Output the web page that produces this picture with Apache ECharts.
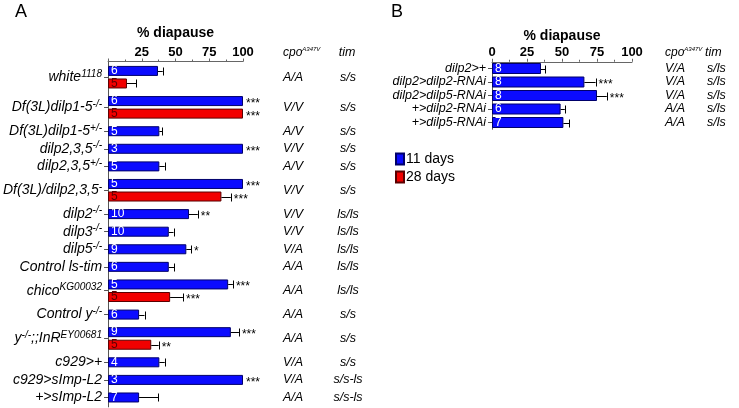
<!DOCTYPE html>
<html><head><meta charset="utf-8">
<script src="https://cdn.jsdelivr.net/npm/echarts@6/dist/echarts.min.js"></script>
<style>html,body{margin:0;padding:0;background:#fff}#c{width:739px;height:408px}</style>
</head><body><div id="c"></div>
<script>
// ---------- data ----------
const xTicks = [0, 25, 50, 75, 100];
const labelsA = ['white^{1118}', 'Df(3L)dilp1-5^{-/-}', 'Df(3L)dilp1-5^{+/-}', 'dilp2,3,5^{-/-}', 'dilp2,3,5^{+/-}',
  'Df(3L)/dilp2,3,5^{-}', 'dilp2^{-/-}', 'dilp3^{-/-}', 'dilp5^{-/-}', 'Control ls-tim', 'chico^{KG00032}',
  'Control y^{-/-}', 'y^{-/-};;InR^{EY00681}', 'c929>+', 'c929>sImp-L2', '+>sImp-L2'];
const d11A = [37, 100, 38, 100, 38, 100, 60, 45, 58, 45, 89, 23, 91, 38, 100, 23];
const e11A = [3.5, 0, 2, 0, 4, 0, 6.5, 3.5, 3.5, 4, 3.5, 4, 6, 4, 0, 14];
const n11A = [6, 6, 5, 3, 5, 5, 10, 10, 9, 6, 5, 6, 9, 4, 3, 7];
const s11A = ['', '***', '', '***', '', '***', '**', '', '*', '', '***', '', '***', '', '***', ''];
const d28A = [14, 100, null, null, null, 84, null, null, null, null, 46, null, 32, null, null, null];
const e28A = [7, 0, null, null, null, 7, null, null, null, null, 9.5, null, 5.5, null, null, null];
const n28A = [5, 5, null, null, null, 5, null, null, null, null, 5, null, 5, null, null, null];
const s28A = ['', '***', '', '', '', '***', '', '', '', '', '***', '', '**', '', '', ''];
const cpoA = ['A/A', 'V/V', 'A/V', 'V/V', 'A/V', 'V/V', 'V/V', 'V/V', 'V/A', 'A/A', 'A/A', 'A/A', 'A/A', 'V/A', 'V/A', 'A/A'];
const timA = ['s/s', 's/s', 's/s', 's/s', 's/s', 's/s', 'ls/ls', 'ls/ls', 'ls/ls', 'ls/ls', 'ls/ls', 's/s', 's/s', 's/s', 's/s-ls', 's/s-ls'];

const labelsB = ['dilp2>+', 'dilp2>dilp2-RNAi', 'dilp2>dilp5-RNAi', '+>dilp2-RNAi', '+>dilp5-RNAi'];
const d11B = [35, 66, 75, 49, 51];
const e11B = [3, 8, 7, 3, 4];
const n11B = [8, 8, 8, 6, 7];
const s11B = ['', '***', '***', '', ''];
const cpoB = ['V/A', 'V/A', 'V/A', 'A/A', 'A/A'];
const timB = ['s/ls', 's/ls', 's/ls', 's/ls', 's/ls'];

// ---------- layout (panel A slot grid) ----------
const PAD_TOP = 7, PAIR = 10, GAP = 14, PAD_BOTTOM = 7, UNIT = 1.256;
const slotA = [];
let pos = PAD_TOP;
labelsA.forEach((l, i) => {
  if (i > 0) pos += GAP;
  const s = { blue: pos, red: null, label: pos };
  if (d28A[i] != null) { s.red = pos + PAIR; s.label = pos + PAIR / 2; pos += PAIR; }
  slotA.push(s);
});
const NA = pos + 1 + PAD_BOTTOM;
const catsA = Array.from({ length: NA }, (_, k) => 'k' + k);
const labelAt = {};
slotA.forEach((s, i) => { labelAt[s.label] = i; });
const blueA = new Array(NA).fill('-'), redA = new Array(NA).fill('-');
const nBlueAt = {}, nRedAt = {};
const errA = [], starsA = [];
slotA.forEach((s, i) => {
  blueA[s.blue] = d11A[i]; nBlueAt[s.blue] = n11A[i];
  errA.push([d11A[i], s.blue, e11A[i]]); starsA.push(s11A[i]);
  if (s.red != null) {
    redA[s.red] = d28A[i]; nRedAt[s.red] = n28A[i];
    errA.push([d28A[i], s.red, e28A[i]]); starsA.push(s28A[i]);
  }
});
const errB = d11B.map((v, i) => [v, i, e11B[i]]);

// ---------- helpers ----------
const FF = 'Liberation Sans, Arial, sans-serif';
function richText(str) {
  return str.split(/(\^\{[^}]*\})/).filter(Boolean)
    .map(p => p.startsWith('^{') ? '{s|' + p.slice(2, -1) + '}' : '{n|' + p + '}').join('');
}
const isLabelA = (idx) => labelAt[idx] !== undefined;
const BLUE = '#0b0bff', BLUE_B = '#00006a', RED = '#f20000', RED_B = '#5a0000';

function errRender(stars) {
  return function (params, api) {
    const v = api.value(0), idx = api.value(1), err = api.value(2);
    const p0 = api.coord([v, idx]), p1 = api.coord([v + err, idx]);
    const y = Math.round(p0[1]) + 0.5;
    const ch = [];
    if (err > 0) {
      ch.push({ type: 'line', shape: { x1: p0[0], y1: y, x2: p1[0], y2: y }, style: { stroke: '#000', lineWidth: 1 } });
      ch.push({ type: 'line', shape: { x1: Math.round(p1[0]) + 0.5, y1: y - 4, x2: Math.round(p1[0]) + 0.5, y2: y + 4 }, style: { stroke: '#000', lineWidth: 1 } });
    }
    const st = stars[params.dataIndex];
    if (st) ch.push({ type: 'text', x: p1[0] + 3, y: y + 2.5,
      style: { text: st, fill: '#000', font: '12px ' + FF, align: 'left', verticalAlign: 'middle' } });
    return { type: 'group', children: ch };
  };
}

const xAxisBase = (showZero) => ({
  type: 'value', position: 'top', min: xTicks[0], max: xTicks[xTicks.length - 1], interval: xTicks[1] - xTicks[0],
  name: '% diapause', nameLocation: 'middle', nameGap: 19,
  nameTextStyle: { fontWeight: 'bold', fontSize: 14, color: '#000', fontFamily: FF },
  axisLine: { show: true, lineStyle: { color: '#666', width: 1 } },
  axisTick: { show: true, length: 3, lineStyle: { color: '#666' } },
  minorTick: { show: true, splitNumber: 2, length: 2, lineStyle: { color: '#666' } },
  splitLine: { show: false },
  axisLabel: { margin: 3, fontWeight: 'bold', fontSize: 13, color: '#000', fontFamily: FF,
    formatter: v => (v === 0 && !showZero) ? '' : String(v) }
});

const richLeft = (fs) => ({
  n: { fontSize: fs, fontStyle: 'italic', color: '#000', fontFamily: FF, lineHeight: fs + 3 },
  s: { fontSize: fs * 0.72, fontStyle: 'italic', color: '#000', fontFamily: FF, lineHeight: fs * 0.7, verticalAlign: 'top' }
});
const headerRich = {
  n: { fontSize: 12, fontStyle: 'italic', fontFamily: FF, fill: '#000', lineHeight: 14 },
  s: { fontSize: 6, fontStyle: 'italic', fontFamily: FF, fill: '#000', lineHeight: 6, verticalAlign: 'top' }
};

const option = {
  animation: false,
  backgroundColor: '#fff',
  grid: [
    { left: 102, top: 61.5, width: 141, height: NA * UNIT },
    { left: 492, top: 61.75, width: 140, height: 67.5 }
  ],
  legend: {
    data: ['11 days', '28 days'], orient: 'vertical', left: 395, top: 152, padding: 0,
    itemWidth: 8, itemHeight: 11, itemGap: 4, icon: 'rect',
    textStyle: { fontSize: 14, color: '#000', fontFamily: FF, padding: [0, 0, 0, -3] }
  },
  xAxis: [
    Object.assign(xAxisBase(false), { gridIndex: 0 }),
    Object.assign(xAxisBase(true), { gridIndex: 1 })
  ],
  yAxis: [
    { type: 'category', gridIndex: 0, data: catsA, inverse: true,
      axisLine: { show: true, lineStyle: { color: '#555' } },
      axisTick: { show: true, length: 4, alignWithLabel: true, interval: isLabelA, lineStyle: { color: '#555' } },
      axisLabel: { interval: isLabelA, margin: 6, formatter: (v, idx) => isLabelA(idx) ? richText(labelsA[labelAt[idx]]) : '',
        rich: richLeft(14) } },
    { type: 'category', gridIndex: 0, data: catsA, inverse: true, position: 'right',
      axisLine: { show: false }, axisTick: { show: false },
      axisLabel: { interval: isLabelA, margin: 40,
        formatter: (v, idx) => isLabelA(idx) ? '{a|' + cpoA[labelAt[idx]] + '}{b|' + timA[labelAt[idx]] + '}' : '',
        rich: { a: { width: 50, fontSize: 12.5, fontStyle: 'italic', color: '#000', fontFamily: FF },
                b: { width: 30, align: 'center', fontSize: 12.5, fontStyle: 'italic', color: '#000', fontFamily: FF } } } },
    { type: 'category', gridIndex: 1, data: labelsB, inverse: true,
      axisLine: { show: true, lineStyle: { color: '#555' } },
      axisTick: { show: true, length: 4, alignWithLabel: true, lineStyle: { color: '#555' } },
      axisLabel: { interval: 0, margin: 6, formatter: v => richText(v), rich: richLeft(12.5) } },
    { type: 'category', gridIndex: 1, data: labelsB, inverse: true, position: 'right',
      axisLine: { show: false }, axisTick: { show: false },
      axisLabel: { interval: 0, margin: 33,
        formatter: (v, idx) => '{a|' + cpoB[idx] + '}{b|' + timB[idx] + '}',
        rich: { a: { width: 42, fontSize: 12.5, fontStyle: 'italic', color: '#000', fontFamily: FF },
                b: { fontSize: 12.5, fontStyle: 'italic', color: '#000', fontFamily: FF } } } }
  ],
  series: [
    { name: '11 days', type: 'bar', xAxisIndex: 0, yAxisIndex: 0, data: blueA, barWidth: 10, barGap: '-100%',
      itemStyle: { color: BLUE, borderColor: BLUE_B, borderWidth: 1 },
      label: { show: true, position: 'insideLeft', distance: 3, color: '#fff', fontSize: 12, fontFamily: FF,
        formatter: p => String(nBlueAt[p.dataIndex]) } },
    { name: '28 days', type: 'bar', xAxisIndex: 0, yAxisIndex: 0, data: redA, barWidth: 10, barGap: '-100%',
      itemStyle: { color: RED, borderColor: RED_B, borderWidth: 1 },
      label: { show: true, position: 'insideLeft', distance: 3, color: '#5a0000', fontSize: 12, fontFamily: FF,
        formatter: p => String(nRedAt[p.dataIndex]) } },
    { name: 'errA', type: 'custom', xAxisIndex: 0, yAxisIndex: 0, data: errA, encode: { x: 0, y: 1 },
      renderItem: errRender(starsA), z: 5 },
    { name: '11 days', type: 'bar', xAxisIndex: 1, yAxisIndex: 2, data: d11B, barWidth: 11,
      itemStyle: { color: BLUE, borderColor: BLUE_B, borderWidth: 1 },
      label: { show: true, position: 'insideLeft', distance: 3, color: '#fff', fontSize: 12, fontFamily: FF,
        formatter: p => String(n11B[p.dataIndex]) } },
    { name: 'errB', type: 'custom', xAxisIndex: 1, yAxisIndex: 2, data: errB, encode: { x: 0, y: 1 },
      renderItem: errRender(s11B), z: 5 }
  ],
  graphic: [
    { type: 'text', left: 15, top: 3, style: { text: 'A', font: '18px ' + FF, fill: '#000' } },
    { type: 'text', left: 391, top: 3, style: { text: 'B', font: '18px ' + FF, fill: '#000' } },
    { type: 'text', x: 283, y: 53, style: { text: '{n|cpo}{s|A347V}', verticalAlign: 'middle', rich: headerRich } },
    { type: 'text', x: 347, y: 53, style: { text: 'tim', align: 'center', verticalAlign: 'middle', font: 'italic 12.5px ' + FF, fill: '#000' } },
    { type: 'text', x: 665, y: 53, style: { text: '{n|cpo}{s|A347V}', verticalAlign: 'middle', rich: headerRich } },
    { type: 'text', x: 705, y: 53, style: { text: 'tim', verticalAlign: 'middle', font: 'italic 12.5px ' + FF, fill: '#000' } }
  ]
};
const chart = echarts.init(document.getElementById('c'), null, { renderer: 'canvas' });
chart.setOption(option);
</script></body></html>
